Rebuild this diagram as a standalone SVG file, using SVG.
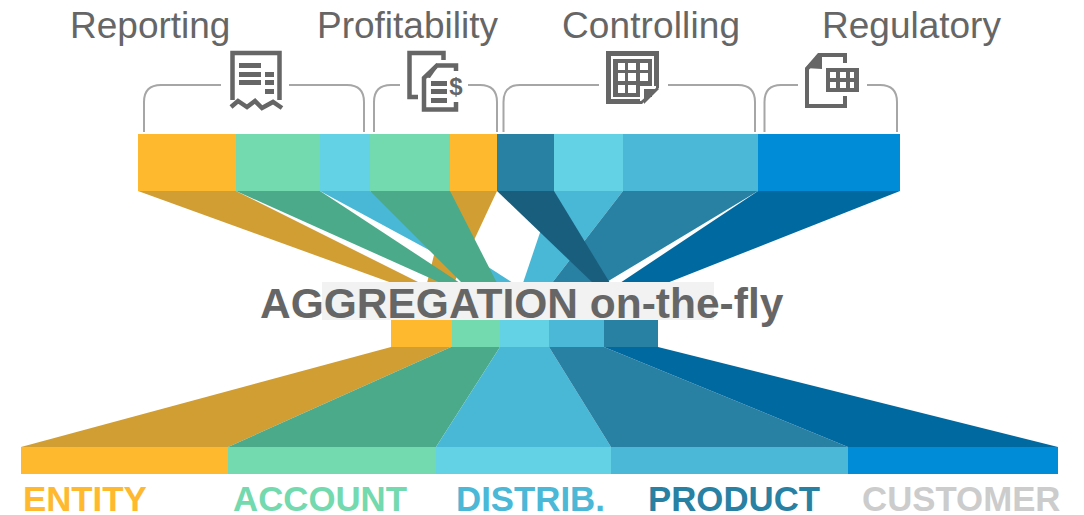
<svg xmlns="http://www.w3.org/2000/svg" width="1084" height="515" viewBox="0 0 1084 515">
<style>
.h{font:37px "Liberation Sans",Arial,sans-serif;fill:#666}
.l{font:bold 34.800px "Liberation Sans",Arial,sans-serif}
.t{font:bold 42.500px "Liberation Sans",Arial,sans-serif;fill:#666}
.br{fill:none;stroke:#a6a6a6;stroke-width:2}
.ic{fill:none;stroke:#666;stroke-width:4.5}
.f{fill:#666}
.w{fill:#fff}
.or{fill:#ffb92e}.gr{fill:#73d9ae}.li{fill:#64d2e5}.mi{fill:#4ab8d6}.te{fill:#2880a3}.bl{fill:#008cd6}
.or2{fill:#d09e33}.gr2{fill:#4aaa8a}.mi2{fill:#48b8d6}.te2{fill:#2880a3}.da{fill:#1a5e7e}.bl2{fill:#0069a0}
</style>
<rect width="1084" height="515" fill="#fff"/>
<g id="funnels-top">
<polygon class="or2" points="138,191 236,191 420,283 392,283"/>
<polygon class="or2" points="450,191 497,191 454,283 427,283"/>
<polygon class="mi2" points="320,191 370,191 513,283 490,283"/>
<polygon class="gr2" points="236,191 320,191 460,283 441,283"/>
<polygon class="gr2" points="370,191 450,191 497,283 462,283"/>
<polygon class="mi2" points="554,191 623,191 552,283 523,283"/>
<polygon class="te2" points="623,191 758,191 605,283 552,283"/>
<polygon class="da" points="497,191 554,191 610,283 593,283"/>
<polygon class="bl2" points="758,191 900,191 667,283 620,283"/>
</g>
<g id="funnels-bottom">
<polygon class="or2" points="391,347 451,347 228,447 21,447"/>
<polygon class="gr2" points="451,347 500,347 436,447 228,447"/>
<polygon class="mi2" points="500,347 549,347 611,447 436,447"/>
<polygon class="te2" points="549,347 604,347 848,447 611,447"/>
<polygon class="bl2" points="604,347 658,347 1058,447 848,447"/>
</g>
<g id="bar-top">
<rect class="or" x="138" y="134" width="98" height="57"/>
<rect class="gr" x="236" y="134" width="84" height="57"/>
<rect class="li" x="320" y="134" width="50" height="57"/>
<rect class="gr" x="370" y="134" width="80" height="57"/>
<rect class="or" x="450" y="134" width="47" height="57"/>
<rect class="te" x="497" y="134" width="57" height="57"/>
<rect class="li" x="554" y="134" width="69" height="57"/>
<rect class="mi" x="623" y="134" width="135" height="57"/>
<rect class="bl" x="758" y="134" width="142" height="57"/>
</g>
<g id="bar-middle">
<rect class="or" x="391" y="320" width="61" height="27"/>
<rect class="gr" x="452" y="320" width="48" height="27"/>
<rect class="li" x="500" y="320" width="49" height="27"/>
<rect class="mi" x="549" y="320" width="55" height="27"/>
<rect class="te" x="604" y="320" width="54" height="27"/>
</g>
<g id="bar-bottom">
<rect class="or" x="21" y="447" width="207" height="27"/>
<rect class="gr" x="228" y="447" width="208" height="27"/>
<rect class="li" x="436" y="447" width="175" height="27"/>
<rect class="mi" x="611" y="447" width="237" height="27"/>
<rect class="bl" x="848" y="447" width="210" height="27"/>
</g>
<g id="aggregation">
<rect x="322" y="282" width="392" height="38" fill="#f2f2f2"/>
<text class="t" x="260" y="318">AGGREGATION on-the-fly</text>
</g>
<g id="connectors">
<path class="br" d="M144,132V102Q144,85 161,85H221M289,85H347Q364,85 364,102V132"/>
<path class="br" d="M374,132V102Q374,85 391,85H400M468,85H480Q497,85 497,102V132"/>
<path class="br" d="M503.500,132V102Q503.500,85 520,85H599M668,85H738Q755,85 755,102V132"/>
<path class="br" d="M764.500,132V102Q764.500,85 781,85H798M867,85H880Q897,85 897,102V132"/>
</g>
<g id="reporting">
<text class="h" x="70" y="38">Reporting</text>
<path class="ic" d="M232.500,100V53H279.500V100"/>
<path class="ic" d="M231,107L238,101L247,107L255,101L262,108L273,102L282,108"/>
<path class="f" d="M239,63h22v5h-22zM239,72h22v5h-22zM239,80h22v5h-22zM265,72h9v5h-9zM265,80h9v5h-9zM265,89h9v5h-9z"/>
</g>
<g id="profitability">
<text class="h" x="317" y="38">Profitability</text>
<path class="ic" d="M443.500,60V53H409.500V97H418"/>
<path class="ic" d="M456,71V65.500H437L424,78V109.500H456V102"/>
<polygon class="f" points="423,77 437,63 437,68 430,78"/>
<path class="f" d="M431,81h16v5h-16zM431,89h16v5h-16zM431,98h16v5h-16z"/>
<text x="456" y="95" text-anchor="middle" style="font:bold 24px 'Liberation Sans',Arial,sans-serif" fill="#666">$</text>
</g>
<g id="controlling">
<text class="h" x="562" y="38" textLength="178">Controlling</text>
<path class="ic" style="stroke-width:5" d="M608.500,53.500H656.500V87L641,101.500H608.500Z"/>
<rect class="f" x="613" y="59" width="39" height="38"/>
<path class="w" d="M618,63h7v7h-7zM628,63h8v7h-8zM640,63h8v7h-8zM618,73h7v8h-7zM628,73h8v8h-8zM640,73h8v8h-8zM618,85h7v8h-7zM628,85h8v8h-8z"/>
<polygon class="w" points="640,86 656,86 656,88 641,101 640,101"/>
<polygon class="f" points="644,89 659,89 644,104"/>
</g>
<g id="regulatory">
<text class="h" x="822" y="38">Regulatory</text>
<path class="ic" style="stroke-width:4" d="M845,63V55H820L807,69V106H845V96"/>
<polygon class="f" points="805,68 818,53 822,53 822,69"/>
<rect class="f" x="826" y="68" width="33" height="24"/>
<path class="w" d="M830,72h6v6h-6zM840,72h6v6h-6zM850,72h4v6h-4zM830,82h6v6h-6zM840,82h6v6h-6zM850,82h4v6h-4z"/>
</g>
<g id="dimension-labels">
<text class="l" x="23" y="511" fill="#ffb92e">ENTITY</text>
<text class="l" x="233" y="511" fill="#73d9ae">ACCOUNT</text>
<text class="l" x="456" y="511" fill="#4ab8d6">DISTRIB.</text>
<text class="l" x="648" y="511" fill="#2880a3">PRODUCT</text>
<text class="l" x="862" y="511" fill="#cccccc">CUSTOMER</text>
</g>
</svg>
